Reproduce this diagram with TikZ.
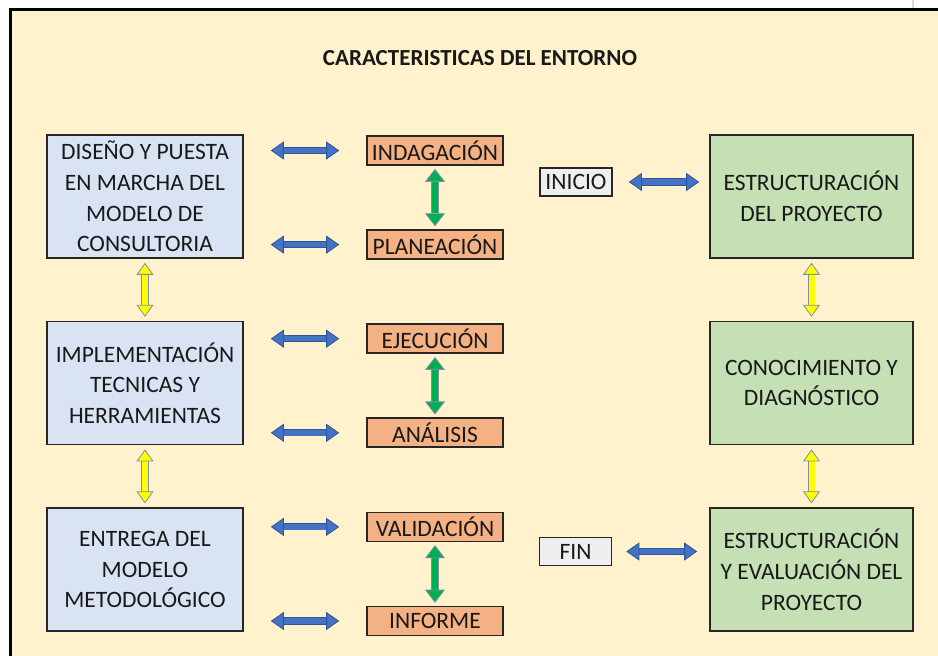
\documentclass[tikz,border=0pt]{standalone}
\usepackage{fontspec}
\setmainfont{Carlito}
\usetikzlibrary{arrows.meta,chains,positioning}

\definecolor{bgcream}{HTML}{FFF2CC}
\definecolor{lblue}{HTML}{DAE3F3}
\definecolor{lorange}{HTML}{F4B183}
\definecolor{lgreen}{HTML}{C5E0B4}
\definecolor{lgray}{HTML}{EFEFEF}
\definecolor{boxline}{HTML}{262626}
\definecolor{arrblue}{HTML}{4472C4}
\definecolor{arrblueline}{HTML}{2F5597}
\definecolor{arrgreen}{HTML}{00B050}
\definecolor{arryellow}{HTML}{FFFF00}
\definecolor{arrline}{HTML}{7F8FA6}

\begin{document}
\begin{tikzpicture}[
        x=1pt, y=1pt,
        box/.style = {
                rectangle,
                draw=boxline,
                line width=1.6pt,
                align=center,
                inner sep=0pt,
                text=black!90,
                font=\fontsize{23.5}{30.6}\selectfont,
            },
        lbox/.style = {box, fill=lblue, minimum width=196pt, minimum height=123pt, on chain},
        obox/.style = {box, fill=lorange, minimum width=136pt, minimum height=29pt, on chain},
        gbox/.style = {box, fill=lgreen, minimum width=203pt, minimum height=123pt, on chain},
        ibox/.style = {box, fill=lgray, minimum width=72pt, minimum height=28pt},
        harrow/.style = {
                double=arrblue, double distance=5.6pt, line width=0.8pt, draw=arrblueline,
                {Triangle[length=13pt,width=18pt,fill=arrblue,line width=0.8pt]}-{Triangle[length=13pt,width=18pt,fill=arrblue,line width=0.8pt]},
                shorten <=27pt, shorten >=27pt,
            },
        garrow/.style = {
                double=arrgreen, double distance=6pt, line width=0.8pt, draw=arrline,
                {Triangle[length=13pt,width=20pt,fill=arrgreen,line width=0.8pt]}-{Triangle[length=13pt,width=20pt,fill=arrgreen,line width=0.8pt]},
                shorten <=3pt, shorten >=3pt,
            },
        yarrow/.style = {
                double=arryellow, double distance=6pt, line width=0.8pt, draw=arrline,
                {Triangle[length=12pt,width=17pt,fill=arryellow,line width=0.8pt]}-{Triangle[length=12pt,width=17pt,fill=arryellow,line width=0.8pt]},
                shorten <=4pt, shorten >=4pt,
            },
    ]
    \useasboundingbox (0,0) rectangle (938,656);
    % background frame
    \fill[bgcream] (10,0) rectangle (938,647);
    \draw[black, line width=3pt] (10.5,0) |- (938,646.5);
    \draw[black!15, line width=1.5pt] (913,648) -- (913,656);

    \node[font=\fontsize{23}{28}\selectfont\bfseries, text=black!90] (title) at (480,598) {CARACTERISTICAS DEL ENTORNO};

    \begin{scope}[start chain = L going below, node distance = 62pt]
        \node[lbox] at (145,459.5) {DISEÑO Y PUESTA\\EN MARCHA DEL\\MODELO DE\\CONSULTORIA};
        \node[lbox] {IMPLEMENTACIÓN\\TECNICAS Y\\HERRAMIENTAS};
        \node[lbox] {ENTREGA DEL\\MODELO\\METODOLÓGICO};
    \end{scope}
    \begin{scope}[start chain = O going below, node distance = 63.5pt]
        \node[obox] at (435,505.5) {INDAGACIÓN};
        \node[obox] {PLANEACIÓN};
        \node[obox] {EJECUCIÓN};
        \node[obox] {ANÁLISIS};
        \node[obox] {VALIDACIÓN};
        \node[obox] {INFORME};
    \end{scope}
    \begin{scope}[start chain = G going below, node distance = 62pt]
        \node[gbox] at (811.5,459.5) {ESTRUCTURACIÓN\\DEL PROYECTO};
        \node[gbox] {CONOCIMIENTO Y\\DIAGNÓSTICO};
        \node[gbox] {ESTRUCTURACIÓN\\Y EVALUACIÓN DEL\\PROYECTO};
    \end{scope}
    \node[ibox] (inicio) at (576,474) {INICIO};
    \node[ibox] (fin) at (575.5,104.5) {FIN};

    % connectors
    \foreach \i in {1,...,6}
    \draw[harrow] (L-1.east |- O-\i) -- (O-\i.west);
    \foreach \i/\j in {1/2,3/4,5/6}
    \draw[garrow] (O-\i.south) -- (O-\j.north);
    \foreach \c in {L,G}
    \foreach \i/\j in {1/2,2/3}
    \draw[yarrow] (\c-\i.south) -- (\c-\j.north);
    \draw[harrow, shorten <=16pt, shorten >=10pt] (inicio.east) -- (inicio -| G-1.west);
    \draw[harrow, shorten <=14pt, shorten >=12pt] (fin.east) -- (fin -| G-3.west);
\end{tikzpicture}
\end{document}
